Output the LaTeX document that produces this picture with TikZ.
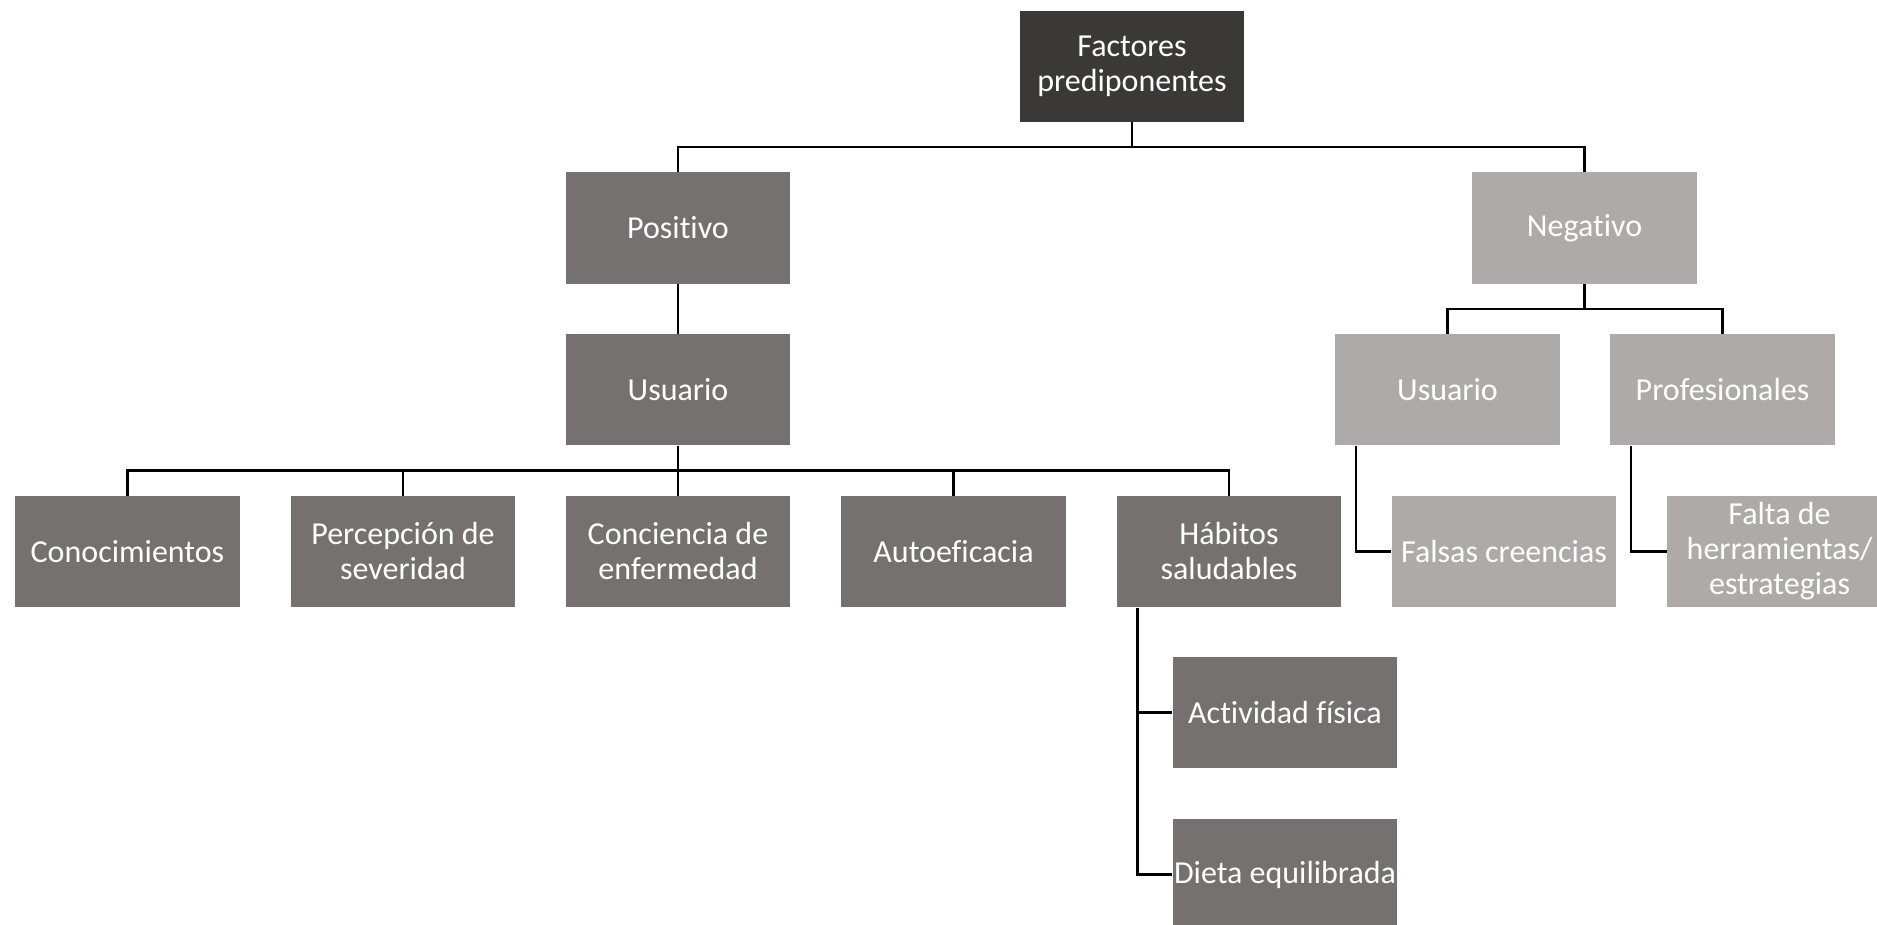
\documentclass[tikz,border=0pt]{standalone}
\usepackage{fontspec}
\setmainfont{Carlito}[RawFeature={-liga;-dlig;-clig}]
\definecolor{darkbox}{HTML}{3B3838}
\definecolor{posbox}{HTML}{767171}
\definecolor{negbox}{HTML}{AEAAAA}
\tikzset{
  box/.style={rectangle, inner sep=0pt, minimum width=112.2pt, minimum height=55.6pt,
    text=white, align=center, font=\fontsize{16}{17.5}\selectfont},
  topbox/.style={box, fill=darkbox},
  posnode/.style={box, fill=posbox},
  negnode/.style={box, fill=negbox},
  link/.style={draw=black, line width=1.3pt}
}
\begin{document}
\begin{tikzpicture}[x=0.5pt, y=-0.5pt]
  \clip (0,0) rectangle (1877,925);
  \fill[white] (0,0) rectangle (1877,925);

  % root
  \node[topbox] (fac) at (1132,66.5) {Factores\\prediponentes};

  % second level
  \node[posnode] (pos) at (678,228) {Positivo};
  \node[negnode] (neg) at (1584.5,228) {Negativo};

  % third level
  \node[posnode] (upos) at (678,389.5) {Usuario};
  \node[negnode] (uneg) at (1447.5,389.5) {Usuario};
  \node[negnode] (prof) at (1722.5,389.5) {Profesionales};

  % fourth level
  \node[posnode] (con) at (127.5,551.5) {Conocimientos};
  \node[posnode] (per) at (403,551.5) {Percepción de\\severidad};
  \node[posnode] (cnc) at (678,551.5) {Conciencia de\\enfermedad};
  \node[posnode] (aut) at (953.5,551.5) {Autoeficacia};
  \node[posnode] (hab) at (1229,551.5) {Hábitos\\saludables};
  \node[negnode] (fal) at (1504,551.5) {Falsas creencias};
  \node[negnode] (fta) at (1779.5,551.5) {Falta de\\herramientas/\\estrategias};

  % healthy habits
  \node[posnode] (act) at (1285,712.5) {Actividad física};
  \node[posnode] (die) at (1285,874.5) {Dieta equilibrada};

  % bus lines
  \coordinate (b1) at (0,147);
  \coordinate (b2) at (0,309);
  \coordinate (b3) at (0,470.5);

  \draw[link] (fac.south) -- (fac.south |- b1);
  \draw[link] (pos.north) -- (pos.north |- b1) -| (neg.north);

  \draw[link] (pos.south) -- (upos.north);

  \draw[link] (neg.south) -- (neg.south |- b2);
  \draw[link] (uneg.north) -- (uneg.north |- b2) -| (prof.north);

  \draw[link] (upos.south) -- (upos.south |- b3);
  \draw[link] (con.north) -- (con.north |- b3) -| (hab.north);
  \draw[link] (per.north) -- (per.north |- b3);
  \draw[link] (cnc.north) -- (cnc.north |- b3);
  \draw[link] (aut.north) -- (aut.north |- b3);

  % side branches
  \draw[link] ([xshift=10.5pt]uneg.south west) |- (fal.west);
  \draw[link] ([xshift=10.5pt]prof.south west) |- (fta.west);
  \draw[link] ([xshift=10.5pt]hab.south west) |- (die.west);
  \draw[link] ([xshift=10.5pt]hab.south west) |- (act.west);
\end{tikzpicture}
\end{document}
